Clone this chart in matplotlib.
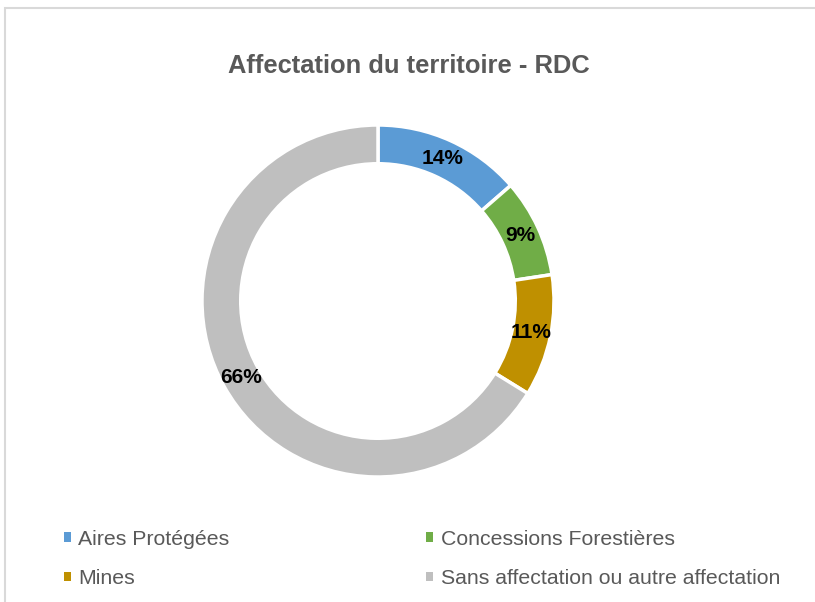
import matplotlib.pyplot as plt
from matplotlib.patches import Rectangle, Patch

categories = ['Aires Protégées', 'Concessions Forestières', 'Mines',
              'Sans affectation ou autre affectation']
values = [13.6, 9.0, 11.2, 66.2]
colors = ['#5B9BD5', '#70AD47', '#BF9000', '#BFBFBF']

plt.rcParams['font.family'] = ['Liberation Sans', 'DejaVu Sans']

W, H = 815, 602
fig = plt.figure(figsize=(W / 100, H / 100), dpi=100)

# outer chart border (light grey), runs off right and bottom edges
fig.patches.append(Rectangle((5 / W, -0.05), 1.1, (H - 8) / H + 0.05,
                             transform=fig.transFigure, fill=False,
                             edgecolor='#D9D9D9', linewidth=1.5))

cx, cy, r = 378, 301, 176
ax = fig.add_axes([(cx - r) / W, (H - cy - r) / H, 2 * r / W, 2 * r / H])

wedges, texts, autotexts = ax.pie(
    values, colors=colors, startangle=90, counterclock=False, radius=1,
    autopct='%.0f%%', pctdistance=0.89,
    wedgeprops=dict(width=0.22, edgecolor='white', linewidth=2.5),
    textprops=dict(fontsize=15, fontweight='bold', color='black'))
ax.set_xlim(-1, 1)
ax.set_ylim(-1, 1)
ax.set_aspect('equal')
ax.axis('off')

fig.text(409 / W, 1 - 66 / H, 'Affectation du territoire - RDC', ha='center',
         va='center', fontsize=18.4, fontweight='bold', color='#595959')

# legend squares without the white wedge edge
handles = [Patch(facecolor=c, edgecolor='none') for c in colors]
order = [0, 2, 1, 3]
fig.legend([handles[i] for i in order], [categories[i] for i in order],
           ncol=2, loc='upper left', bbox_to_anchor=(64 / W, 1 - 530 / H),
           frameon=False, fontsize=15.3, labelcolor='#595959',
           handlelength=0.33, handleheight=0.33, handletextpad=0.35,
           columnspacing=9.25, labelspacing=0.95, borderpad=0,
           borderaxespad=0)

plt.savefig('out.png', dpi=100)
